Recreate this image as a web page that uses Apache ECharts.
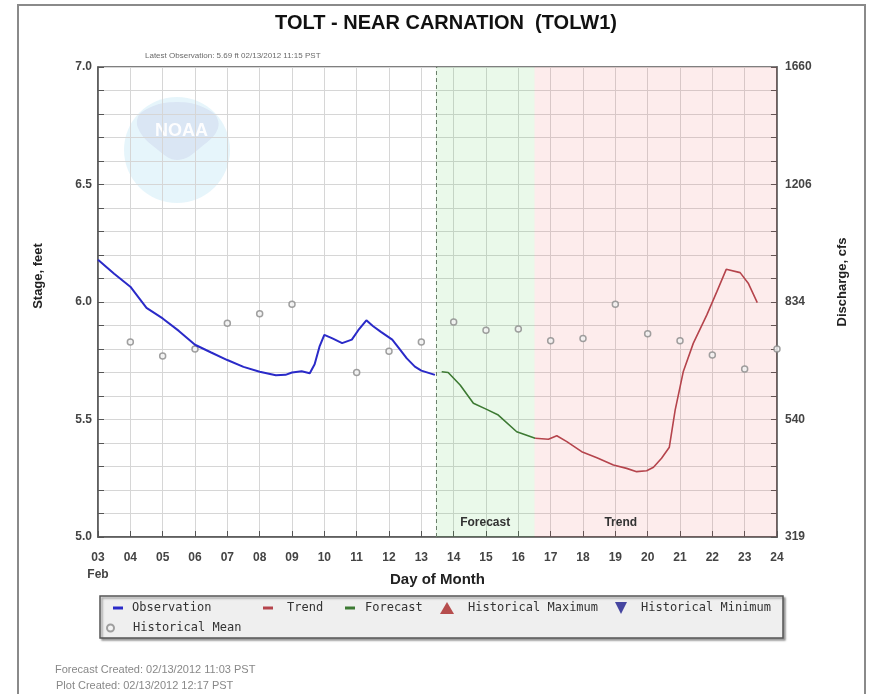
<!DOCTYPE html>
<html>
<head>
<meta charset="utf-8">
<script src="https://cdn.jsdelivr.net/npm/echarts@6/dist/echarts.min.js"></script>
<style>
  html, body { margin: 0; padding: 0; background: #fff; }
  #chart { width: 869px; height: 694px; }
</style>
</head>
<body>
<div id="chart"></div>
<script>
// observed stage (feet) by day of month
const obsDays = [3.0, 3.5, 4.0, 4.5, 5.0, 5.5, 6.0, 6.5, 7.0, 7.5, 8.0, 8.5, 8.8, 9.0, 9.3, 9.55,
  9.7, 9.85, 10.0, 10.25, 10.55, 10.85, 11.05, 11.3, 11.5, 11.75, 12.1, 12.3, 12.55, 12.8, 13.0, 13.42];
const obsStage = [6.18, 6.12, 6.065, 5.975, 5.93, 5.877, 5.818, 5.785, 5.753, 5.724, 5.703, 5.688, 5.69, 5.70, 5.705, 5.697,
  5.735, 5.81, 5.86, 5.845, 5.825, 5.84, 5.88, 5.922, 5.898, 5.873, 5.84, 5.805, 5.76, 5.725, 5.708, 5.69];

const fcstDays = [13.63, 13.83, 14.2, 14.61, 15.02, 15.38, 15.95, 16.52];
const fcstStage = [5.703, 5.70, 5.647, 5.569, 5.543, 5.519, 5.448, 5.42];

const trendDays = [16.52, 16.93, 17.19, 17.5, 17.96, 18.43, 18.94, 19.35, 19.66, 19.97, 20.18, 20.43,
  20.67, 20.85, 21.1, 21.41, 21.83, 22.14, 22.43, 22.86, 23.11, 23.39];
const trendStage = [5.42, 5.416, 5.431, 5.406, 5.363, 5.337, 5.306, 5.292, 5.278, 5.282, 5.297, 5.335,
  5.382, 5.54, 5.703, 5.824, 5.945, 6.044, 6.139, 6.125, 6.08, 5.997];

const meanDays = [4, 5, 6, 7, 8, 9, 11, 12, 13, 14, 15, 16, 17, 18, 19, 20, 21, 22, 23, 24];
const meanStage = [5.83, 5.77, 5.80, 5.91, 5.95, 5.99, 5.70, 5.79, 5.83, 5.915, 5.88, 5.885, 5.835, 5.845,
  5.99, 5.865, 5.835, 5.775, 5.715, 5.80];

// right axis: rating curve labels at these stages
const ratingStage = [5.0, 5.5, 6.0, 6.5, 7.0];
const ratingCfs = [319, 540, 834, 1206, 1660];

const lastObsDay = 13.45;
const forecastEnd = 16.5;
const firstMonth = 'Feb';

const pairs = (xs, ys) => xs.map((x, i) => [x, ys[i]]);
const isHalf = v => Math.abs(v * 2 - Math.round(v * 2)) < 1e-6;

const chart = echarts.init(document.getElementById('chart'));

const legendBase = {
  orient: 'horizontal',
  padding: 0,
  selectedMode: false,
  textStyle: { fontFamily: 'DejaVu Sans Mono', fontSize: 12, color: '#333' }
};
const legendItem = (name, left, top, icon, w, h, pad) => Object.assign({}, legendBase, {
  data: [name], left, top, icon, itemWidth: w, itemHeight: h,
  textStyle: Object.assign({}, legendBase.textStyle, { padding: [0, 0, 0, pad] })
});

const option = {
  animation: false,
  title: [
    {
      text: 'TOLT - NEAR CARNATION  (TOLW1)',
      left: 441, top: 8, textAlign: 'center',
      textStyle: { fontFamily: 'Liberation Sans', fontWeight: 'bold', fontSize: 20, color: '#111' }
    },
    {
      text: 'Latest Observation: 5.69 ft 02/13/2012 11:15 PST',
      left: 140, top: 47,
      textStyle: { fontFamily: 'Liberation Sans', fontSize: 8, color: '#6a6a6a', fontWeight: 'normal' }
    },
    {
      text: 'Forecast Created: 02/13/2012 11:03 PST',
      left: 50, top: 659,
      textStyle: { fontFamily: 'Liberation Sans', fontSize: 11, color: '#888', fontWeight: 'normal' }
    },
    {
      text: 'Plot Created: 02/13/2012 12:17 PST',
      left: 51, top: 675,
      textStyle: { fontFamily: 'Liberation Sans', fontSize: 11, color: '#888', fontWeight: 'normal' }
    }
  ],
  legend: [
    legendItem('Observation', 113, 602, 'rect', 10, 3, 4),
    legendItem('Trend', 263, 602, 'rect', 10, 3, 9),
    legendItem('Forecast', 345, 602, 'rect', 10, 3, 5),
    legendItem('Historical Maximum', 440, 602, 'triangle', 14, 12, 9),
    legendItem('Historical Minimum', 615, 602, 'path://M0,0L10,0L5,10Z', 14, 12, 8),
    legendItem('Historical Mean', 106, 622, 'circle', 7, 7, 14)
  ],
  grid: {
    left: 98, right: 92, top: 67, bottom: 157,
    show: true, borderColor: '#555', borderWidth: 1.5, backgroundColor: 'transparent'
  },
  xAxis: {
    type: 'value', min: 3, max: 24, interval: 1,
    name: 'Day of Month', nameLocation: 'middle', nameGap: 35, nameMoveOverlap: false,
    nameTextStyle: { fontFamily: 'Liberation Sans', fontWeight: 'bold', fontSize: 15, color: '#222' },
    axisLine: { show: true, lineStyle: { color: '#555', width: 1.5 } },
    axisTick: { show: true, inside: true, length: 6, lineStyle: { color: '#555' } },
    axisLabel: {
      margin: 12, lineHeight: 17,
      fontFamily: 'Liberation Sans', fontWeight: 'bold', fontSize: 12, color: '#444',
      formatter: v => {
        const s = String(v).padStart(2, '0');
        return v === 3 ? s + '\n' + firstMonth : s;
      }
    },
    splitLine: { show: true, lineStyle: { color: '#d6d6d6', width: 1 } }
  },
  yAxis: [
    {
      type: 'value', min: 5, max: 7, interval: 0.1, position: 'left',
      name: 'Stage, feet', nameLocation: 'middle', nameGap: 53, nameRotate: 90,
      nameTextStyle: { fontFamily: 'Liberation Sans', fontWeight: 'bold', fontSize: 13, color: '#222', padding: [0, 0, 0, 52] },
      axisLine: { show: true, lineStyle: { color: '#555', width: 1.5 } },
      axisTick: { show: true, inside: true, length: 6, lineStyle: { color: '#555' } },
      axisLabel: {
        margin: 6, fontFamily: 'Liberation Sans', fontWeight: 'bold', fontSize: 12, color: '#444',
        formatter: v => isHalf(v) ? v.toFixed(1) : ''
      },
      splitLine: { show: true, lineStyle: { color: '#d6d6d6', width: 1 } }
    },
    {
      type: 'value', min: 5, max: 7, interval: 0.1, position: 'right',
      name: 'Discharge, cfs', nameLocation: 'middle', nameGap: 59, nameRotate: 90,
      nameTextStyle: { fontFamily: 'Liberation Sans', fontWeight: 'bold', fontSize: 13, color: '#222', padding: [0, 0, 0, 40] },
      axisLine: { show: true, lineStyle: { color: '#555', width: 1.5 } },
      axisTick: { show: true, inside: true, length: 6, lineStyle: { color: '#555' } },
      axisLabel: {
        margin: 8, fontFamily: 'Liberation Sans', fontWeight: 'bold', fontSize: 12, color: '#444',
        formatter: v => {
          const i = ratingStage.findIndex(s => Math.abs(s - v) < 1e-6);
          return i >= 0 ? String(ratingCfs[i]) : '';
        }
      },
      splitLine: { show: false }
    }
  ],
  graphic: [
    // outer frame
    { type: 'rect', shape: { x: 18, y: 5, width: 847, height: 720 }, style: { fill: 'none', stroke: '#8a8a8a', lineWidth: 2 }, silent: true },
    // faint NOAA logo
    { type: 'circle', shape: { cx: 177, cy: 150, r: 53 }, style: { fill: 'rgba(130,205,235,0.2)' }, silent: true },
    {
      type: 'polygon', silent: true,
      shape: { points: [[142, 112], [177, 102], [212, 112], [218, 128], [200, 148], [178, 160], [158, 150], [138, 128]], smooth: 0.4 },
      style: { fill: 'rgba(175,175,220,0.22)' }
    },
    {
      type: 'text', left: 155, top: 122, silent: true,
      style: { text: 'NOAA', fill: 'rgba(255,255,255,0.95)', font: 'bold 18px Liberation Sans' }
    },
    // legend box
    {
      type: 'rect', shape: { x: 100, y: 596, width: 683, height: 42 }, silent: true,
      style: { fill: '#efefef', stroke: '#555', lineWidth: 1.5, shadowBlur: 2, shadowOffsetX: 2, shadowOffsetY: 2, shadowColor: 'rgba(0,0,0,0.35)' }
    }
  ],
  series: [
    {
      name: 'Observation', type: 'line', data: pairs(obsDays, obsStage),
      showSymbol: false, symbol: 'none', z: 5,
      itemStyle: { color: '#2a2ac8' },
      lineStyle: { color: '#2a2ac8', width: 2 },
      markLine: {
        silent: true, symbol: 'none', label: { show: false },
        lineStyle: { color: '#6b7f6b', type: [4, 3], width: 1 },
        data: [{ xAxis: lastObsDay }]
      }
    },
    {
      name: 'Forecast', type: 'line', data: pairs(fcstDays, fcstStage),
      showSymbol: false, symbol: 'none', z: 5,
      itemStyle: { color: '#3d7a33' },
      lineStyle: { color: '#3d7a33', width: 1.6 },
      markArea: {
        silent: true,
        itemStyle: { color: 'rgba(60,200,60,0.11)' },
        label: { show: true, position: 'insideBottom', distance: 8, fontFamily: 'Liberation Sans', fontWeight: 'bold', fontSize: 12, color: '#333' },
        data: [[{ xAxis: lastObsDay, name: 'Forecast' }, { xAxis: forecastEnd }]]
      }
    },
    {
      name: 'Trend', type: 'line', data: pairs(trendDays, trendStage),
      showSymbol: false, symbol: 'none', z: 5,
      itemStyle: { color: '#b5444c' },
      lineStyle: { color: '#b5444c', width: 1.6 },
      markArea: {
        silent: true,
        itemStyle: { color: 'rgba(235,80,80,0.11)' },
        label: { show: true, position: 'insideBottom', distance: 8, offset: [-35, 0], fontFamily: 'Liberation Sans', fontWeight: 'bold', fontSize: 12, color: '#333' },
        data: [[{ xAxis: forecastEnd, name: 'Trend' }, { xAxis: 24 }]]
      }
    },
    {
      name: 'Historical Maximum', type: 'scatter', data: [],
      symbol: 'triangle', itemStyle: { color: '#a82424' }
    },
    {
      name: 'Historical Minimum', type: 'scatter', data: [],
      symbol: 'path://M0,0L10,0L5,10Z', itemStyle: { color: '#1c1c8c' }
    },
    {
      name: 'Historical Mean', type: 'scatter', data: pairs(meanDays, meanStage),
      symbol: 'circle', symbolSize: 6, z: 4,
      itemStyle: { color: '#f4f4f4', borderColor: '#8a8a8a', borderWidth: 1.5 }
    }
  ]
};

chart.setOption(option);
</script>
</body>
</html>
